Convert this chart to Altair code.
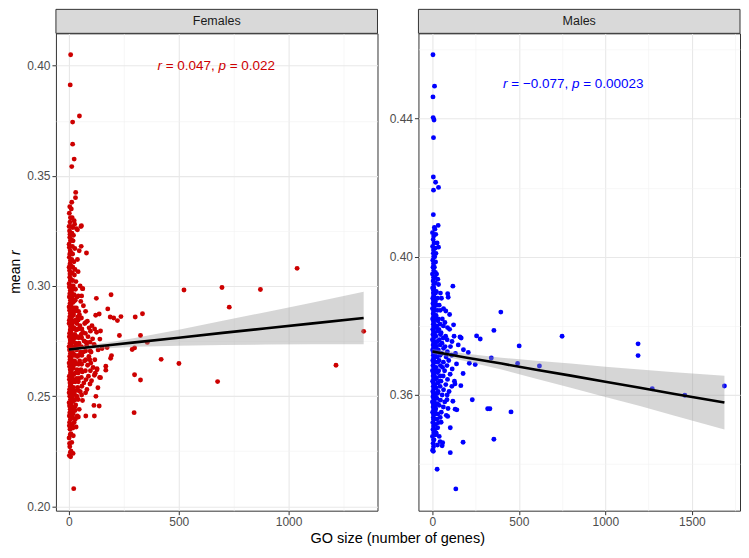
import altair as alt
import pandas as pd

# ---------------- data ----------------
panels = ["Females", "Males"]

# Females: (GO size, mean r)
females_points = [
    (2, 0.223), (4, 0.227), (1, 0.231), (5, 0.235), (3, 0.238), (2, 0.241), (6, 0.244), (1, 0.247),
    (4, 0.250), (3, 0.253), (5, 0.256), (2, 0.259), (6, 0.262), (1, 0.265), (4, 0.268), (3, 0.271),
    (5, 0.274), (2, 0.277), (6, 0.280), (1, 0.283), (4, 0.286), (3, 0.289), (5, 0.292), (2, 0.295),
    (6, 0.298), (1, 0.301), (4, 0.304), (3, 0.307), (5, 0.310), (2, 0.313), (6, 0.316), (1, 0.319),
    (4, 0.322), (3, 0.325), (5, 0.329), (2, 0.333), (4, 0.336),
    (7, 0.2245), (3, 0.2285), (6, 0.2325), (2, 0.2365), (7, 0.2395), (4, 0.2425), (3, 0.2455),
    (7, 0.2485), (1, 0.2515), (6, 0.2545), (2, 0.2575), (7, 0.2605), (3, 0.2635), (5, 0.2665),
    (7, 0.2695), (1, 0.2725), (6, 0.2755), (3, 0.2785), (7, 0.2815), (2, 0.2845), (6, 0.2875),
    (1, 0.2905), (7, 0.2935), (4, 0.2965), (2, 0.2995), (7, 0.3025), (5, 0.3055), (1, 0.3085),
    (7, 0.3115), (4, 0.3145), (2, 0.3175), (7, 0.3205), (5, 0.3235), (1, 0.3270), (7, 0.3310),
    (10, 0.225), (13, 0.229), (9, 0.233), (15, 0.237), (11, 0.240), (14, 0.243), (10, 0.246),
    (16, 0.249), (12, 0.252), (9, 0.255), (15, 0.258), (11, 0.261), (13, 0.264), (10, 0.267),
    (16, 0.270), (12, 0.273), (14, 0.276), (9, 0.279), (15, 0.282), (11, 0.285), (13, 0.288),
    (10, 0.291), (16, 0.294), (12, 0.297), (14, 0.300), (9, 0.303), (15, 0.306), (11, 0.309),
    (13, 0.312), (10, 0.315), (16, 0.318), (12, 0.321), (14, 0.324), (9, 0.327), (15, 0.331),
    (11, 0.335), (13, 0.338),
    (18, 0.2355), (17, 0.2405), (19, 0.2445), (17, 0.2475), (18, 0.2505), (17, 0.2535),
    (19, 0.2565), (17, 0.2595), (18, 0.2625), (17, 0.2655), (19, 0.2685), (18, 0.2715),
    (17, 0.2745), (19, 0.2775), (17, 0.2805), (18, 0.2835), (17, 0.2865), (19, 0.2895),
    (18, 0.2925), (17, 0.2955), (19, 0.2985), (17, 0.3025), (18, 0.3085), (17, 0.3145),
    (19, 0.3205), (18, 0.3265),
    (20, 0.232), (24, 0.238), (19, 0.242), (26, 0.245), (22, 0.248), (25, 0.251), (21, 0.254),
    (27, 0.257), (23, 0.260), (19, 0.263), (26, 0.266), (22, 0.269), (24, 0.272), (20, 0.275),
    (27, 0.278), (23, 0.281), (25, 0.284), (21, 0.287), (26, 0.290), (22, 0.293), (24, 0.296),
    (20, 0.300), (25, 0.305), (23, 0.311), (27, 0.317), (21, 0.323), (26, 0.328),
    (29, 0.2395), (28, 0.2435), (30, 0.2485), (28, 0.2525), (29, 0.2565), (30, 0.2605),
    (28, 0.2645), (29, 0.2685), (30, 0.2725), (28, 0.2765), (29, 0.2805), (30, 0.2845),
    (28, 0.2885), (29, 0.2935), (30, 0.2985), (28, 0.3075),
    (33, 0.236), (38, 0.241), (31, 0.246), (36, 0.250), (40, 0.254), (34, 0.258), (37, 0.262),
    (32, 0.265), (39, 0.268), (35, 0.271), (31, 0.274), (38, 0.277), (33, 0.280), (36, 0.283),
    (40, 0.286), (34, 0.290), (37, 0.295), (32, 0.302), (39, 0.312), (35, 0.326),
    (43, 0.2405), (42, 0.2485), (44, 0.2525), (43, 0.2565), (42, 0.2605), (44, 0.2645),
    (43, 0.2685), (42, 0.2725), (44, 0.2765), (43, 0.2805), (42, 0.2845), (44, 0.2885),
    (43, 0.2955), (42, 0.3065),
    (47, 0.244), (52, 0.252), (45, 0.258), (55, 0.262), (49, 0.266), (53, 0.270), (46, 0.274),
    (56, 0.278), (50, 0.282), (48, 0.287), (54, 0.293), (51, 0.300), (47, 0.316), (55, 0.327),
    (58, 0.2505), (59, 0.2545), (57, 0.2585), (58, 0.2645), (59, 0.2685), (57, 0.2725),
    (58, 0.2765), (59, 0.2805), (57, 0.2855), (58, 0.2955),
    (62, 0.248), (68, 0.256), (61, 0.261), (71, 0.266), (65, 0.270), (69, 0.275), (63, 0.279),
    (72, 0.283), (66, 0.291),
    (76, 0.2515), (78, 0.2575), (75, 0.2615), (77, 0.2665), (76, 0.2705), (78, 0.2745),
    (75, 0.2785), (77, 0.2835), (76, 0.2885),
    (82, 0.253), (89, 0.259), (85, 0.264), (91, 0.268), (81, 0.273), (87, 0.277), (92, 0.281),
    (84, 0.284),
    (96, 0.2555), (98, 0.2615), (95, 0.2665), (97, 0.2705), (96, 0.2745), (98, 0.2795),
    (103, 0.257), (110, 0.263), (101, 0.270), (108, 0.276), (105, 0.282),
    (116, 0.2595), (118, 0.2665), (115, 0.2735), (117, 0.2805),
    (128, 0.262), (133, 0.271), (126, 0.279),
    (8, 0.405), (6, 0.3913), (48, 0.3772), (17, 0.3744), (17, 0.3644), (24, 0.3576), (13, 0.3542),
    (31, 0.3425), (30, 0.3401), (80, 0.315), (57, 0.3274), (56, 0.318), (39, 0.3255), (24, 0.3296),
    (62, 0.2988), (1039, 0.308), (524, 0.2982), (697, 0.2993), (872, 0.2984), (730, 0.2904),
    (1342, 0.2794), (1216, 0.264), (677, 0.2566), (501, 0.2648), (420, 0.2667), (297, 0.2425),
    (299, 0.2597), (326, 0.2573), (357, 0.2744), (326, 0.2775), (335, 0.2874), (302, 0.2859),
    (288, 0.2712), (299, 0.2719), (237, 0.2861), (221, 0.2843), (230, 0.2775), (192, 0.296),
    (177, 0.2896), (204, 0.2855), (188, 0.2859), (125, 0.2944), (63, 0.2988), (194, 0.2684),
    (190, 0.2672), (168, 0.2636), (168, 0.2618), (140, 0.2585), (132, 0.2538), (123, 0.2499),
    (138, 0.2455), (116, 0.241), (77, 0.241), (22, 0.208), (8, 0.2225), (19, 0.224),
    (138, 0.2873), (144, 0.2796), (141, 0.2759), (174, 0.2721), (151, 0.2716), (120, 0.2604),
    (128, 0.2625), (100, 0.265), (122, 0.2867), (114, 0.2458), (144, 0.2584),
]

# Males: (GO size, mean r)
males_points = [
    (2, 0.344), (5, 0.346), (1, 0.348), (4, 0.350), (3, 0.352), (6, 0.3535), (2, 0.355), (5, 0.3565),
    (1, 0.358), (4, 0.3595), (3, 0.361), (6, 0.3625), (2, 0.364), (5, 0.3655), (1, 0.367), (4, 0.3685),
    (3, 0.370), (6, 0.3715), (2, 0.373), (5, 0.3745), (1, 0.376), (4, 0.3775), (3, 0.379), (6, 0.3805),
    (2, 0.382), (5, 0.3835), (1, 0.385), (4, 0.3865), (3, 0.388), (6, 0.3895), (2, 0.391), (5, 0.393),
    (1, 0.395), (4, 0.397), (3, 0.399), (6, 0.401), (2, 0.403), (5, 0.405), (1, 0.407),
    (7, 0.345), (7, 0.347), (8, 0.349), (7, 0.351), (8, 0.3528), (7, 0.3543), (8, 0.3558),
    (7, 0.3573), (8, 0.3588), (7, 0.3603), (8, 0.3618), (7, 0.3633), (8, 0.3648), (7, 0.3663),
    (8, 0.3678), (7, 0.3693), (8, 0.3708), (7, 0.3723), (8, 0.3738), (7, 0.3753), (8, 0.3768),
    (7, 0.3783), (8, 0.3798), (7, 0.3813), (8, 0.3828), (7, 0.3843), (8, 0.3858), (7, 0.3873),
    (8, 0.3888), (7, 0.3903), (8, 0.392), (7, 0.394), (8, 0.396), (7, 0.398), (8, 0.400),
    (7, 0.402), (8, 0.406),
    (10, 0.347), (14, 0.350), (9, 0.353), (16, 0.3555), (12, 0.358), (10, 0.3605), (15, 0.363),
    (11, 0.3655), (13, 0.368), (9, 0.3705), (16, 0.373), (12, 0.3755), (14, 0.378), (10, 0.3805),
    (15, 0.383), (11, 0.3855), (13, 0.388), (9, 0.391), (16, 0.394), (12, 0.397), (14, 0.400),
    (10, 0.404), (15, 0.408),
    (18, 0.3485), (19, 0.3515), (17, 0.3545), (18, 0.357), (19, 0.3595), (17, 0.362),
    (18, 0.3645), (19, 0.367), (17, 0.3695), (18, 0.372), (19, 0.3745), (17, 0.377),
    (18, 0.3795), (19, 0.382), (17, 0.3845), (18, 0.387), (19, 0.3895), (17, 0.3925),
    (18, 0.3955), (19, 0.3985), (17, 0.4025),
    (22, 0.349), (26, 0.353), (20, 0.356), (27, 0.359), (23, 0.362), (25, 0.365), (21, 0.368),
    (28, 0.371), (24, 0.374), (20, 0.377), (26, 0.380), (22, 0.383), (27, 0.386), (23, 0.390),
    (25, 0.395), (21, 0.401),
    (31, 0.3505), (32, 0.3545), (30, 0.3575), (31, 0.3605), (32, 0.3635), (30, 0.3665),
    (31, 0.3695), (32, 0.3725), (30, 0.3755), (31, 0.3785), (32, 0.3815), (30, 0.3845),
    (31, 0.3880), (32, 0.3935),
    (36, 0.352), (40, 0.357), (34, 0.361), (42, 0.364), (37, 0.367), (39, 0.370), (35, 0.373),
    (41, 0.376), (38, 0.379), (34, 0.382), (40, 0.386), (36, 0.392),
    (46, 0.3535), (47, 0.3585), (45, 0.3625), (46, 0.3655), (47, 0.3685), (45, 0.3715),
    (46, 0.3745), (47, 0.3775), (45, 0.3805), (46, 0.3845), (47, 0.3895),
    (52, 0.355), (57, 0.360), (50, 0.364), (59, 0.368), (54, 0.372), (56, 0.375), (51, 0.378),
    (58, 0.382), (53, 0.388),
    (64, 0.3565), (65, 0.3615), (63, 0.3655), (64, 0.3695), (65, 0.3735), (63, 0.3765),
    (64, 0.3800), (65, 0.3850),
    (72, 0.358), (78, 0.363), (71, 0.367), (80, 0.371), (74, 0.374), (77, 0.377), (73, 0.381),
    (86, 0.3600), (88, 0.3645), (85, 0.3685), (87, 0.3725), (86, 0.3760), (88, 0.3795),
    (97, 0.361), (103, 0.366), (95, 0.370), (105, 0.374), (100, 0.379),
    (113, 0.3625), (115, 0.3675), (112, 0.3715), (114, 0.3755),
    (128, 0.364), (134, 0.372), (126, 0.377),
    (4, 0.4585), (13, 0.4494), (4, 0.4463), (5, 0.4403), (10, 0.4396), (7, 0.4345), (6, 0.4231),
    (19, 0.4216), (36, 0.4201), (7, 0.4193), (6, 0.4122), (34, 0.4091), (36, 0.4028), (12, 0.4085),
    (20, 0.4065), (28, 0.404),
    (119, 0.3915), (89, 0.3893), (92, 0.3883), (396, 0.384), (356, 0.3787), (256, 0.3771),
    (277, 0.3762), (750, 0.377), (1189, 0.3748), (1189, 0.3714), (502, 0.3742), (493, 0.3691),
    (619, 0.3684), (341, 0.3707), (248, 0.3688), (214, 0.3692), (1271, 0.3618), (1459, 0.3599),
    (1688, 0.3626), (231, 0.3586), (320, 0.356), (333, 0.356), (455, 0.3551), (356, 0.3472),
    (178, 0.3463), (136, 0.3328), (28, 0.3385), (104, 0.3433), (6, 0.3437), (30, 0.3455),
    (45, 0.3465), (60, 0.3462), (40, 0.348), (104, 0.3505), (23, 0.3487), (81, 0.3541),
    (132, 0.3559), (119, 0.3582), (165, 0.3627), (131, 0.3632), (178, 0.3662), (180, 0.3731),
    (167, 0.3765), (160, 0.3768), (123, 0.3803), (100, 0.3833), (78, 0.3843), (208, 0.3723),
    (150, 0.3745), (140, 0.369), (57, 0.3453), (51, 0.3521), (89, 0.3538), (85, 0.3586),
    (91, 0.3561), (142, 0.3557),
]

# Linear fits with 95% confidence band
females_fit_x = [0, 100, 200, 300, 500, 700, 900, 1100, 1342]
females_fit_y = [0.2712, 0.2723, 0.2733, 0.2744, 0.2765, 0.2787, 0.2808, 0.2829, 0.2855]
females_fit_lo = [0.2705, 0.2713, 0.2719, 0.2724, 0.2729, 0.2732, 0.2734, 0.2735, 0.2736]
females_fit_hi = [0.2719, 0.2733, 0.2747, 0.2764, 0.2801, 0.2842, 0.2882, 0.2923, 0.2974]

males_fit_x = [1, 200, 400, 600, 800, 1000, 1200, 1400, 1688]
males_fit_y = [0.3726, 0.3708, 0.3691, 0.3673, 0.3656, 0.3638, 0.3621, 0.3603, 0.3578]
males_fit_lo = [0.3719, 0.3697, 0.3674, 0.3647, 0.3621, 0.3594, 0.3568, 0.3540, 0.3500]
males_fit_hi = [0.3733, 0.3719, 0.3708, 0.3699, 0.3691, 0.3682, 0.3674, 0.3666, 0.3656]

# annotations: pieces (text, italic)
females_label = [("r", True), ("= 0.047,", False), ("p", True), ("= 0.022", False)]
males_label = [("r", True), ("= \u22120.077,", False), ("p", True), ("= 0.00023", False)]
females_label_pos = (671, 0.400)
males_label_pos = (815, 0.4499)

# axis ticks (major + minor)
females_x_ticks = [0, 250, 500, 750, 1000, 1250]
females_y_ticks = [0.20, 0.225, 0.25, 0.275, 0.30, 0.325, 0.35, 0.375, 0.40]
males_x_ticks = [0, 250, 500, 750, 1000, 1250, 1500, 1750]
males_y_ticks = [0.34, 0.36, 0.38, 0.40, 0.42, 0.44, 0.46]

# ---------------- styling ----------------
FONT = "Liberation Sans"
W, H = 322, 478
RED = "#CD0000"
BLUE = "#0000FF"
ANN_SIZE = 13.5


def text_width(s, size):
    widths = {"0": .556, "1": .556, "2": .556, "3": .556, "4": .556, "5": .556, "6": .556,
              "7": .556, "8": .556, "9": .556, ".": .278, ",": .278, " ": .278, "=": .584,
              "\u2212": .584, "r": .333, "p": .556}
    return sum(widths.get(c, .556) for c in s) * size


def make_axis(values, step, fmt):
    test = f"abs(datum.value/{step} - round(datum.value/{step})) > 0.01"
    return alt.Axis(
        values=values,
        labelExpr=f"({test}) ? '' : format(datum.value, '{fmt}')",
        tickColor={"condition": {"test": test, "value": "transparent"}, "value": "#333333"},
        gridWidth={"condition": {"test": test, "value": 0.6}, "value": 1.1},
        gridColor={"condition": {"test": test, "value": "#f2f2f2"}, "value": "#e8e8e8"},
        title=None, domain=False, labelFont=FONT, labelFontSize=12, labelColor="#4d4d4d",
        tickSize=4, labelPadding=2, labelFlush=False, labelOverlap=False,
    )


def panel(name, pts, fx, fy, flo, fhi, xdom, ydom, xt, xstep, yt, ystep, yfmt,
          color, label, label_pos, with_ytitle):
    df = pd.DataFrame(pts, columns=["x", "y"])
    fit = pd.DataFrame({"x": fx, "y": fy, "lo": flo, "hi": fhi})
    xs = alt.Scale(domain=xdom, nice=False, zero=False)
    ys = alt.Scale(domain=ydom, nice=False, zero=False)
    xax = make_axis(xt, xstep, "d")
    yax = make_axis(yt, ystep, yfmt)
    X = alt.X("x:Q", scale=xs, axis=xax)
    Y = alt.Y("y:Q", scale=ys, axis=yax)

    points = alt.Chart(df).mark_circle(size=24, opacity=1, color=color).encode(X, Y)
    band = alt.Chart(fit).mark_area(color="#999999", opacity=0.4).encode(
        X, alt.Y("lo:Q", scale=ys, axis=yax), alt.Y2("hi:Q"))
    line = alt.Chart(fit).mark_line(color="black", strokeWidth=2.6).encode(X, Y)

    layers = [points, band, line]

    # annotation made of pieces (italic r and p)
    total = 0
    offsets = []
    for i, (t, it) in enumerate(label):
        offsets.append(total)
        total += text_width(t, ANN_SIZE) + (text_width(" ", ANN_SIZE) if i < len(label) - 1 else 0)
    ann = pd.DataFrame({"x": [label_pos[0]], "y": [label_pos[1]]})
    for (t, it), off in zip(label, offsets):
        layers.append(
            alt.Chart(ann).mark_text(
                align="left", baseline="middle", dx=off - total / 2, font=FONT,
                fontSize=ANN_SIZE, fontStyle="italic" if it else "normal", color=color,
            ).encode(X, Y, text=alt.value(t))
        )

    strip_df = pd.DataFrame({"panel": [name]})
    layers.append(
        alt.Chart(strip_df).mark_rect(fill="#d9d9d9", stroke="#333333", strokeWidth=1).encode(
            x=alt.value(0), x2=alt.value(W), y=alt.value(-24), y2=alt.value(0))
    )
    layers.append(
        alt.Chart(strip_df).mark_text(font=FONT, fontSize=12.5, color="#1a1a1a",
                                      baseline="middle").encode(
            x=alt.value(W / 2), y=alt.value(-12), text="panel:N")
    )

    if with_ytitle:
        tdf = pd.DataFrame({"t": ["mean"]})
        w_mean = 2.501 * 14
        w_tot = w_mean + 0.278 * 14 + 0.333 * 14
        layers.append(
            alt.Chart(tdf).mark_text(font=FONT, fontSize=14, angle=270, align="left",
                                     baseline="middle", dx=-w_tot / 2, color="black").encode(
                x=alt.value(-40), y=alt.value(H / 2), text="t:N")
        )
        layers.append(
            alt.Chart(tdf).mark_text(font=FONT, fontSize=14, angle=270, align="left",
                                     baseline="middle", fontStyle="italic",
                                     dx=-w_tot / 2 + w_mean + 0.278 * 14, color="black").encode(
                x=alt.value(-40), y=alt.value(H / 2), text=alt.value("r"))
        )

    return alt.layer(*layers).properties(width=W, height=H)


fem = panel(panels[0], females_points, females_fit_x, females_fit_y, females_fit_lo, females_fit_hi,
            [-59, 1405], [0.198, 0.4147], females_x_ticks, 500, females_y_ticks, 0.05, ".2f",
            RED, females_label, females_label_pos, True)
mal = panel(panels[1], males_points, males_fit_x, males_fit_y, males_fit_lo, males_fit_hi,
            [-80, 1778], [0.3265, 0.4647], males_x_ticks, 500, males_y_ticks, 0.04, ".2f",
            BLUE, males_label, males_label_pos, False)

chart = alt.hconcat(fem, mal, spacing=10).properties(
    padding={"left": 0, "top": 0, "right": 0, "bottom": 0},
    title=alt.TitleParams("GO size (number of genes)", orient="bottom", anchor="middle",
                          fontSize=14.5, font=FONT, fontWeight="normal", color="black",
                          offset=4, dx=23),
).configure_view(stroke="#333333", strokeWidth=1)

chart.save("out.html", embed_options={"renderer": "svg", "actions": False})
